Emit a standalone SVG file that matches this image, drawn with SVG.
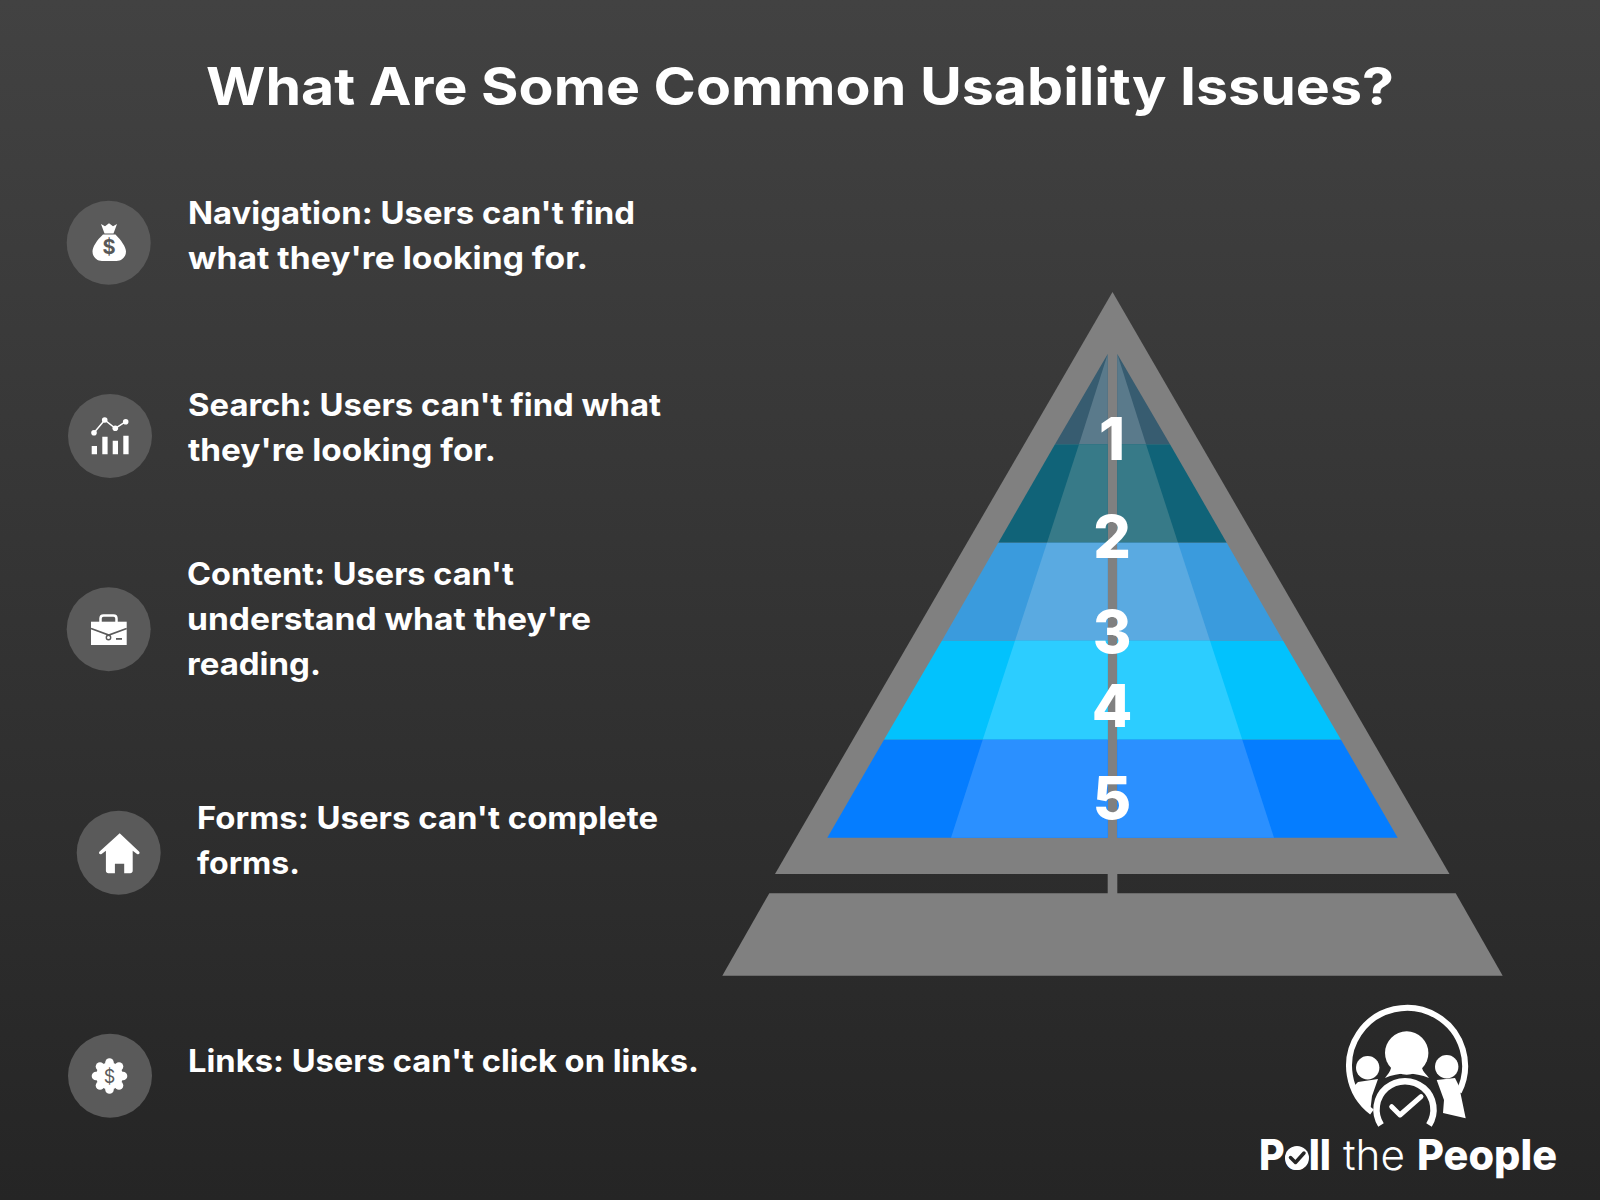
<svg xmlns="http://www.w3.org/2000/svg" width="1600" height="1200" viewBox="0 0 1600 1200">
<style>
.t{font-family:"Inter","Liberation Sans",sans-serif;font-weight:700;fill:#fff}
.b{font-size:31px}
.d{font-size:59px;font-weight:800;text-anchor:middle}
.g{fill:#808080}
.c{fill:#5a5a5a}
.w{fill:#fff}
.logo{font-family:"Inter","Liberation Sans",sans-serif;fill:#fff;font-size:42px;font-weight:800}
</style>
<defs><linearGradient id="bg" x1="0" y1="0" x2="0" y2="1"><stop offset="0" stop-color="#424242"/><stop offset="1" stop-color="#252525"/></linearGradient></defs>
<rect width="1600" height="1200" fill="url(#bg)"/>
<text id="title" class="t" x="206" y="105" font-size="52" textLength="1188" lengthAdjust="spacingAndGlyphs">What Are Some Common Usability Issues?</text>

<g id="item-navigation">
<circle class="c" cx="108.7" cy="242.7" r="42"/>
<path class="w" d="M101 224l4 2.200 4-3 4 3 4-2.200-3.500 9.500h-9zM103 234.500C97 240 92.500 247 92.500 251.500C92.500 257 97 261 102 261H116.500C121.500 261 126 257 126 251.500C126 247 121 240 115.500 234.500z"/>
<text x="109" y="254" font-family="Inter,sans-serif" font-weight="700" font-size="20" fill="#585858" text-anchor="middle">$</text>
<text class="t b" x="188" y="224" textLength="447" lengthAdjust="spacingAndGlyphs">Navigation: Users can't find</text>
<text class="t b" x="188" y="269" textLength="400" lengthAdjust="spacingAndGlyphs">what they're looking for.</text>
</g>

<g id="item-search">
<circle class="c" cx="110" cy="436" r="42"/>
<path class="w" d="M91.700 446h5.300v8.300h-5.300zM102.300 436.700h5.300v17.600h-5.300zM112.700 440.700h5.300v13.600h-5.300zM123.300 435.700h5.300v18.600h-5.300z"/>
<path d="M94 432.700L104.700 420L115.300 428.300L125.700 421.700" fill="none" stroke="#fff" stroke-width="1.500"/>
<circle class="w" cx="94" cy="432.700" r="2.800"/><circle class="w" cx="104.700" cy="420" r="2.800"/><circle class="w" cx="115.300" cy="428.300" r="2.800"/><circle class="w" cx="125.700" cy="421.700" r="2.800"/>
<text class="t b" x="188" y="416" textLength="473" lengthAdjust="spacingAndGlyphs">Search: Users can't find what</text>
<text class="t b" x="188" y="460.500" textLength="308" lengthAdjust="spacingAndGlyphs">they're looking for.</text>
</g>

<g id="item-content">
<circle class="c" cx="108.700" cy="629.300" r="42"/>
<path d="M100.500 622v-3.500c0-2 1.500-3 3-3h10c1.500 0 3 1 3 3v3.500" fill="none" stroke="#fff" stroke-width="2.500"/>
<rect class="w" x="91" y="621.700" width="35.700" height="23.300"/>
<path d="M91 628.500L108.800 635L126.700 628.500" fill="none" stroke="#5a5a5a" stroke-width="1.800"/>
<circle cx="108.500" cy="637.500" r="2.200" fill="#fff" stroke="#5a5a5a" stroke-width="1.400"/>
<rect x="116" y="638" width="6" height="1.800" fill="#5a5a5a"/>
<text class="t b" x="187" y="585" textLength="327" lengthAdjust="spacingAndGlyphs">Content: Users can't</text>
<text class="t b" x="187" y="630" textLength="404" lengthAdjust="spacingAndGlyphs">understand what they're</text>
<text class="t b" x="187" y="675" textLength="134" lengthAdjust="spacingAndGlyphs">reading.</text>
</g>

<g id="item-forms">
<circle class="c" cx="118.700" cy="852.700" r="42"/>
<path class="w" transform="translate(1 0)" d="M118.700 833.300L138 851.500c1.500 1.500 0 3.500-2 2.500l-4.300-3.300v20c0 1.500-1 2.500-2.500 2.500h-6v-9.500h-9.300v9.500h-6.500c-1.500 0-2.500-1-2.500-2.500v-20l-4.300 3.300c-2 1-3.500-1-2-2.500z"/>
<text class="t b" x="197" y="829" textLength="461" lengthAdjust="spacingAndGlyphs">Forms: Users can't complete</text>
<text class="t b" x="197" y="874" textLength="103" lengthAdjust="spacingAndGlyphs">forms.</text>
</g>

<g id="item-links">
<circle class="c" cx="110" cy="1075.700" r="42"/>
<g class="w"><circle cx="109.500" cy="1076" r="13.500"/><circle cx="109.500" cy="1062.500" r="4.300"/><circle cx="109.500" cy="1089.500" r="4.300"/><circle cx="96" cy="1076" r="4.300"/><circle cx="123" cy="1076" r="4.300"/><circle cx="100" cy="1066.500" r="4.300"/><circle cx="119" cy="1066.500" r="4.300"/><circle cx="100" cy="1085.500" r="4.300"/><circle cx="119" cy="1085.500" r="4.300"/></g>
<text x="109.500" y="1082.500" font-family="Inter,sans-serif" font-weight="400" font-size="18" fill="#5a5a5a" text-anchor="middle">$</text>
<text class="t b" x="188" y="1072" textLength="511" lengthAdjust="spacingAndGlyphs">Links: Users can't click on links.</text>
</g>

<g id="pyramid">
<polygon class="g" points="1112.500,292 1449.500,874 775,874"/>
<polygon class="g" points="769.300,893.300 1455.700,893.300 1502.700,975.700 722.300,975.700"/>
<rect class="g" x="1107.700" y="870" width="9.600" height="26"/>
<g id="band-1">
<polygon fill="#375c70" points="1107.700,354 1107.700,444.300 1055,444.300"/><polygon fill="#375c70" points="1117.300,354 1117.300,444.300 1170,444.300"/>
<polygon fill="#5a7a8b" points="1107.700,354 1107.700,444.300 1079,444.300"/><polygon fill="#5a7a8b" points="1117.300,354 1117.300,444.300 1146,444.300"/>
</g>
<g id="band-2">
<polygon fill="#106378" points="1055,444.300 1107.700,444.300 1107.700,542.700 998.300,542.700"/><polygon fill="#106378" points="1170,444.300 1117.300,444.300 1117.300,542.700 1226.700,542.700"/>
<polygon fill="#377a88" points="1079,444.300 1107.700,444.300 1107.700,542.700 1047,542.700"/><polygon fill="#377a88" points="1146,444.300 1117.300,444.300 1117.300,542.700 1178,542.700"/>
</g>
<g id="band-3">
<polygon fill="#3a9bdd" points="998.300,542.700 1107.700,542.700 1107.700,640.800 941.900,640.800"/><polygon fill="#3a9bdd" points="1226.700,542.700 1117.300,542.700 1117.300,640.800 1283.100,640.800"/>
<polygon fill="#5aaae1" points="1047,542.700 1107.700,542.700 1107.700,640.800 1015,640.800"/><polygon fill="#5aaae1" points="1178,542.700 1117.300,542.700 1117.300,640.800 1210,640.800"/>
</g>
<g id="band-4">
<polygon fill="#02c2fd" points="941.900,640.800 1107.700,640.800 1107.700,739.700 884,739.700"/><polygon fill="#02c2fd" points="1283.100,640.800 1117.300,640.800 1117.300,739.700 1341,739.700"/>
<polygon fill="#2ccdff" points="1015,640.800 1107.700,640.800 1107.700,739.700 982.700,739.700"/><polygon fill="#2ccdff" points="1210,640.800 1117.300,640.800 1117.300,739.700 1242.300,739.700"/>
</g>
<g id="band-5">
<polygon fill="#057dff" points="884,739.700 1107.700,739.700 1107.700,837.700 827.300,837.700"/><polygon fill="#057dff" points="1341,739.700 1117.300,739.700 1117.300,837.700 1397.700,837.700"/>
<polygon fill="#2b90ff" points="982.700,739.700 1107.700,739.700 1107.700,837.700 951,837.700"/><polygon fill="#2b90ff" points="1242.300,739.700 1117.300,739.700 1117.300,837.700 1274,837.700"/>
</g>
<text class="t d" x="1112" y="459.500">1</text>
<text class="t d" x="1112" y="558">2</text>
<text class="t d" x="1112" y="653">3</text>
<text class="t d" x="1112" y="727">4</text>
<text class="t d" x="1112" y="819">5</text>
</g>

<g id="logo">
<path d="M1372 1112A58 58 0 1 1 1458.800 1092" fill="none" stroke="#fff" stroke-width="6"/>
<circle class="w" cx="1406.700" cy="1053" r="21.700"/>
<path class="w" d="M1391 1068L1422 1068C1423 1072 1426 1074 1429 1078C1415 1072 1398 1072 1385 1078C1388 1074 1390 1072 1391 1068z"/>
<circle class="w" cx="1367.700" cy="1067.700" r="11.700"/>
<circle class="w" cx="1446.700" cy="1066.700" r="11.700"/>
<path class="w" d="M1358 1082L1378 1079L1372 1096L1370 1113L1362 1104L1352 1088z"/>
<path class="w" d="M1436.700 1080L1455 1078L1459 1086L1465.700 1118.300L1443 1113L1444 1100z"/>
<path d="M1381 1125A28.500 28.500 0 1 1 1429 1125" fill="none" stroke="#fff" stroke-width="6.500"/>
<path d="M1391.700 1106.700L1400 1115L1421 1096.700" fill="none" stroke="#fff" stroke-width="5" stroke-linecap="round" stroke-linejoin="round"/>
<text class="logo" x="1259" y="1170" textLength="72" lengthAdjust="spacingAndGlyphs">Poll</text>
<text class="logo" x="1343" y="1170" style="font-weight:300" textLength="62" lengthAdjust="spacingAndGlyphs">the</text>
<text class="logo" x="1417" y="1170" textLength="140" lengthAdjust="spacingAndGlyphs">People</text>
<circle class="w" cx="1297" cy="1158" r="12"/>
<path d="M1290.500 1157.500L1295.500 1162.500L1304 1153" fill="none" stroke="#262626" stroke-width="3.500" stroke-linecap="round" stroke-linejoin="round"/>
</g>
</svg>
